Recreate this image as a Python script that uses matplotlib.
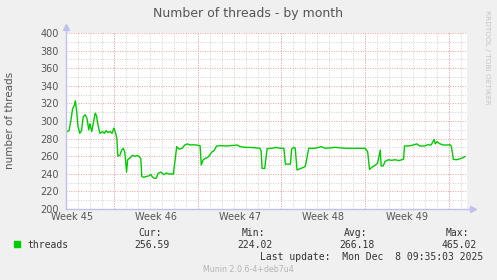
import matplotlib
matplotlib.use("Agg")
import matplotlib.pyplot as plt
import numpy as np

# days since start of plot (Munin month view), threads
days = [0.10, 0.25, 0.40, 0.55, 0.70, 0.78, 0.90, 1.00, 1.15, 1.30, 1.44, 1.60, 1.75,
        1.90, 2.00, 2.15, 2.30, 2.44, 2.55, 2.65, 2.83, 3.05, 3.20, 3.35, 3.50, 3.70,
        3.85, 4.00, 4.15, 4.25, 4.33, 4.50, 4.65, 4.80, 4.92, 5.06, 5.15, 5.35, 5.55,
        5.75, 5.95, 6.10, 6.25, 6.33, 6.50, 6.70, 6.90, 7.08, 7.20, 7.36, 7.55, 7.69,
        7.92, 8.05, 8.20, 8.40, 8.60, 8.80, 8.97, 9.25, 9.45, 9.70, 9.92, 10.15, 10.35,
        10.60, 10.97, 11.20, 11.30, 11.45, 11.65, 11.85, 12.00, 12.20, 12.36, 12.58,
        12.90, 13.45, 14.30, 14.55, 15.00, 15.40, 16.20, 16.30, 16.38, 16.60, 16.80,
        17.20, 17.55, 17.85, 18.20, 18.33, 18.75, 18.85, 19.03, 19.15, 19.30, 19.58,
        19.85, 20.00, 20.28, 20.80, 21.33, 21.65, 22.50, 23.30, 24.00, 25.00, 25.20,
        25.36, 25.55, 25.85, 26.03, 26.15, 26.25, 26.33, 26.50, 26.65, 26.94, 27.20,
        27.50, 27.80, 28.06, 28.20, 28.28, 28.60, 29.00, 29.30, 29.55, 29.95, 30.20,
        30.50, 30.75, 30.85, 31.00, 31.25, 31.55, 31.80, 32.08, 32.20, 32.36, 32.64,
        32.90, 33.20, 33.33]
threads = [288, 289, 300, 314, 318, 323, 310, 294, 286, 289, 305, 307, 303,
           290, 297, 288, 299, 309, 306, 297, 286, 288, 286, 289, 287, 288,
           286, 292, 286, 280, 260, 261, 267, 269, 264, 242, 256, 258, 261,
           260, 260.6, 260, 257, 237, 236, 237, 237.5, 239.4, 236.7, 235, 235, 240.5,
           242, 240.5, 239, 241, 239.6, 240, 239.5, 270.8, 268, 269, 272.7, 274, 272.7,
           273, 272.5, 272, 250, 255.7, 257.6, 258.6, 261.4, 265, 266, 271.6,
           272, 271.6, 272.7, 270.8, 270, 270, 269, 266, 246.2, 246, 268.6,
           269, 270, 269, 269, 251, 251, 268.2, 270, 269, 244.3, 246,
           247.3, 248.9, 269, 269, 270.8, 269, 270, 269, 269, 269, 265,
           245, 247.4, 250, 252, 259.8, 267, 248.9, 249, 254, 256, 255.3,
           256, 255, 256, 256.7, 271.6, 271.6, 272.7, 274, 271.6, 271.6, 273,
           272.7, 279, 274, 276.5, 274, 272.7, 272.7, 273, 271, 256.4, 256,
           257, 258.5, 259.7]

week_labels = ["Week 45", "Week 46", "Week 47", "Week 48", "Week 49"]
week_starts = [4, 11, 18, 25, 32]
legend_cols = ["Cur:", "Min:", "Avg:", "Max:"]
legend_vals = ["256.59", "224.02", "266.18", "465.02"]

W, H = 497, 280
fig = plt.figure(figsize=(W / 100, H / 100), dpi=100, facecolor="#f0f0f0")
ax = fig.add_axes([66 / W, 71 / H, 401 / W, 176 / H])
ax.set_facecolor("white")
x_max = 33.5
ax.set_xlim(0, x_max)
ax.set_ylim(200, 400)

dot = (0, (1, 1.5))
# minor grid
for d in range(1, 34):
    ax.axvline(d, color="#d0d0d0", lw=0.7, ls=dot, zorder=1)
for v in range(210, 400, 20):
    ax.axhline(v, color="#d0d0d0", lw=0.7, ls=dot, zorder=1)
# major grid
for d in week_starts:
    ax.axvline(d, color="#eca0a0", lw=0.7, ls=dot, zorder=2)
for v in range(220, 401, 20):
    ax.axhline(v, color="#eca0a0", lw=0.7, ls=dot, zorder=2)

ax.plot(days, threads, color="#00cc00", lw=1.0, zorder=5)

for s in ax.spines.values():
    s.set_visible(False)
axis_col = "#c0c0ee"
ax.plot([0, 0], [200, 405], color=axis_col, lw=1, clip_on=False, zorder=6)
ax.plot([0, x_max + 0.4], [200, 200], color=axis_col, lw=1, clip_on=False, zorder=6)
ax.plot([0], [407], marker="^", ms=4, color=axis_col, clip_on=False, zorder=6)
ax.plot([x_max + 0.5], [200], marker=">", ms=4, color=axis_col, clip_on=False, zorder=6)

ax.set_yticks(range(200, 401, 20))
ax.set_xticks([w - 3.5 for w in week_starts], week_labels)
ax.tick_params(axis="both", length=0, labelsize=7, colors="#555555")
ax.tick_params(axis="y", pad=5)
ax.tick_params(axis="x", pad=2.5)

fig.text(248 / W, 1 - 14 / H, "Number of threads - by month", ha="center", va="center",
         fontsize=9, color="#555555")
fig.text(10 / W, 1 - 120 / H, "number of threads", rotation=90, ha="center", va="center",
         fontsize=7.5, color="#555555")
fig.text(487 / W, 1 - 57 / H, "RRDTOOL / TOBI OETIKER", rotation=270, ha="center",
         va="center", fontsize=5.3, color="#c4c4c4")

mono = "DejaVu Sans Mono"
fig.patches.append(plt.Rectangle((14 / W, 1 - 247 / H), 6 / W, 6 / H, color="#00cc00",
                                 transform=fig.transFigure, figure=fig))
fig.text(27 / W, 1 - 245 / H, "threads", family=mono, fontsize=7, va="center", color="#333333")
head_x = [162, 265, 367, 469]
val_x = [170, 273, 375, 477]
for hx, vx, c, v in zip(head_x, val_x, legend_cols, legend_vals):
    fig.text(hx / W, 1 - 233 / H, c, family=mono, fontsize=7, ha="right", va="center",
             color="#333333")
    fig.text(vx / W, 1 - 245 / H, v, family=mono, fontsize=7, ha="right", va="center",
             color="#333333")
fig.text(483 / W, 1 - 257 / H, "Last update:  Mon Dec  8 09:35:03 2025", family=mono,
         fontsize=7, ha="right", va="center", color="#333333")
fig.text(248 / W, 1 - 269 / H, "Munin 2.0.6-4+deb7u4", fontsize=5.7, ha="center",
         va="center", color="#b4b4b4")

fig.savefig("out.png", dpi=100, facecolor=fig.get_facecolor())
